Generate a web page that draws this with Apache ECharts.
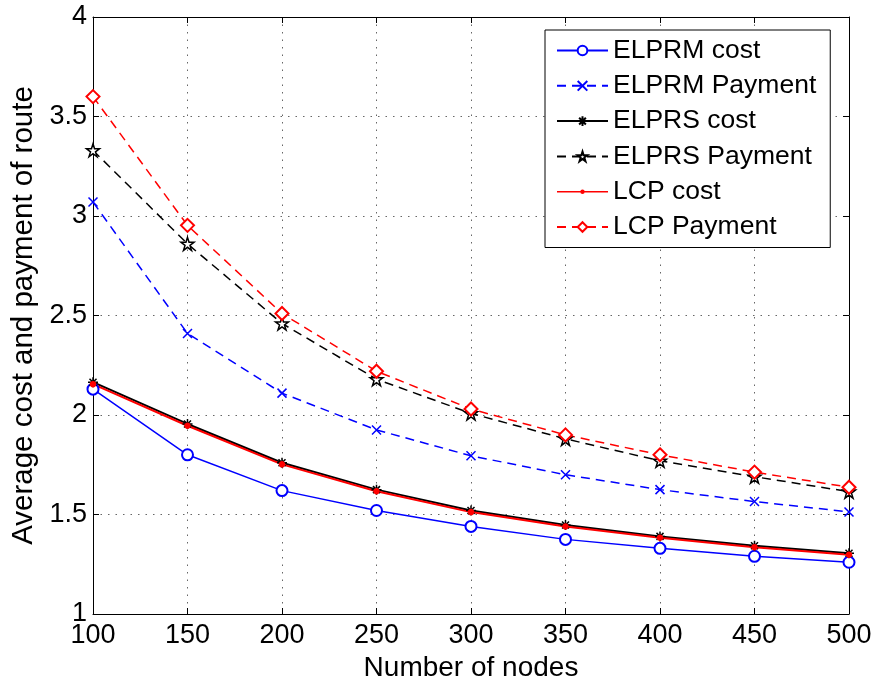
<!DOCTYPE html>
<html>
<head>
<meta charset="utf-8">
<script src="https://cdn.jsdelivr.net/npm/echarts@6/dist/echarts.min.js"></script>
<style>
html,body{margin:0;padding:0;background:#fff;}
#chart{width:873px;height:679px;}
</style>
</head>
<body>
<div id="chart"></div>
<script>
const nodes = [100,150,200,250,300,350,400,450,500];
const elprmCost = [2.13,1.80,1.62,1.52,1.44,1.375,1.33,1.29,1.26];
const elprmPay = [3.07,2.41,2.11,1.925,1.795,1.70,1.625,1.565,1.513];
const elprsCost = [2.165,1.955,1.76,1.625,1.52,1.447,1.39,1.343,1.305];
const elprsPay = [3.33,2.86,2.46,2.18,2.008,1.88,1.77,1.69,1.615];
const lcpCost = [2.155,1.946,1.752,1.617,1.512,1.44,1.383,1.336,1.298];
const lcpPay = [3.60,2.953,2.51,2.22,2.03,1.90,1.80,1.713,1.637];
const seriesNames = ['ELPRM cost','ELPRM Payment','ELPRS cost','ELPRS Payment','LCP cost','LCP Payment'];

const FONT = "'Liberation Sans', Arial, Helvetica, sans-serif";
const crossPath = 'path://M0,0L10,10M10,0L0,10';
const asteriskPath = 'path://M5,0L5,10M0,5L10,5M1.5,1.5L8.5,8.5M8.5,1.5L1.5,8.5';
const starPath = 'path://M10,0L12.245,6.91L19.511,6.91L13.633,11.18L15.878,18.09L10,13.82L4.122,18.09L6.367,11.18L0.489,6.91L7.755,6.91Z';
const lineDotIcon = 'path://M0,0M51,12M0,5.3L51,5.3L51,6.7L0,6.7ZM25.5,3.8A2.2,2.2,0,1,1,25.5,8.2A2.2,2.2,0,1,1,25.5,3.8Z';

function pts(arr){ return nodes.map((x,i)=>[x,arr[i]]); }

function mk(name, arr, color, dashed, symbol, size, fill, width){
  return {
    name: name, type: 'line', data: pts(arr),
    symbol: symbol, symbolSize: size, showSymbol: true,
    lineStyle: {color: color, width: width, type: dashed ? [9,6] : 'solid'},
    itemStyle: {color: fill, borderColor: color, borderWidth: 1.5},
    emphasis: {disabled: true},
    z: 2
  };
}

const chart = echarts.init(document.getElementById('chart'), null, {renderer:'canvas', width: 873, height: 679});
const axisCommon = {
  type: 'value',
  axisLine: {show: true, lineStyle: {color: '#000', width: 1}},
  axisTick: {show: true, inside: true, length: 6, lineStyle: {color: '#000'}}
};
chart.setOption({
  animation: false,
  backgroundColor: '#fff',
  grid: {left: 93, right: 24, top: 17, bottom: 65, containLabel: false, outerBoundsMode: 'none'},
  xAxis: [
    Object.assign({}, axisCommon, {
      min: 100, max: 500, interval: 50, position: 'bottom',
      name: 'Number of nodes', nameLocation: 'middle', nameGap: 23,
      nameTextStyle: {fontSize: 28, color: '#000', fontFamily: FONT},
      axisLabel: {fontSize: 27, color: '#000', fontFamily: FONT, margin: 8},
      splitLine: {show: true, lineStyle: {color: '#666', type: [1.5,6], width: 1}}
    }),
    Object.assign({}, axisCommon, {
      min: 100, max: 500, interval: 50, position: 'top',
      axisLabel: {show: false}, splitLine: {show: false}
    })
  ],
  yAxis: [
    Object.assign({}, axisCommon, {
      min: 1, max: 4, interval: 0.5, position: 'left',
      name: 'Average cost and payment of route', nameLocation: 'middle', nameGap: 47,
      nameTextStyle: {fontSize: 29.5, color: '#000', fontFamily: FONT},
      axisLabel: {fontSize: 27, color: '#000', fontFamily: FONT, margin: 6},
      splitLine: {show: true, lineStyle: {color: '#666', type: [1.5,6], width: 1}}
    }),
    Object.assign({}, axisCommon, {
      min: 1, max: 4, interval: 0.5, position: 'right',
      axisLabel: {show: false}, splitLine: {show: false}
    })
  ],
  legend: {
    show: true, orient: 'vertical', left: 545, top: 30,
    data: seriesNames.map(n => n === 'LCP cost'
      ? {name: n, icon: lineDotIcon, itemStyle: {color: '#ff0000', borderWidth: 0}}
      : {name: n}),
    backgroundColor: '#fff', borderColor: '#000', borderWidth: 1,
    padding: [7, 14, 7, 11], itemGap: 8.3, itemWidth: 51, itemHeight: 12,
    textStyle: {fontSize: 26.5, color: '#000', fontFamily: FONT, lineHeight: 26},
    selectedMode: false
  },
  series: [
    mk(seriesNames[0], elprmCost, '#0000ff', false, 'emptyCircle', 11, '#0000ff', 1.5),
    mk(seriesNames[1], elprmPay, '#0000ff', true, crossPath, 9, '#0000ff', 1.5),
    mk(seriesNames[2], elprsCost, '#000000', false, asteriskPath, 10, '#000000', 2),
    mk(seriesNames[3], elprsPay, '#000000', true, starPath, 13, '#ffffff', 1.5),
    mk(seriesNames[4], lcpCost, '#ff0000', false, 'circle', 5, '#ff0000', 2),
    mk(seriesNames[5], lcpPay, '#ff0000', true, 'emptyDiamond', 13, '#ff0000', 1.5)
  ]
});
</script>
</body>
</html>
